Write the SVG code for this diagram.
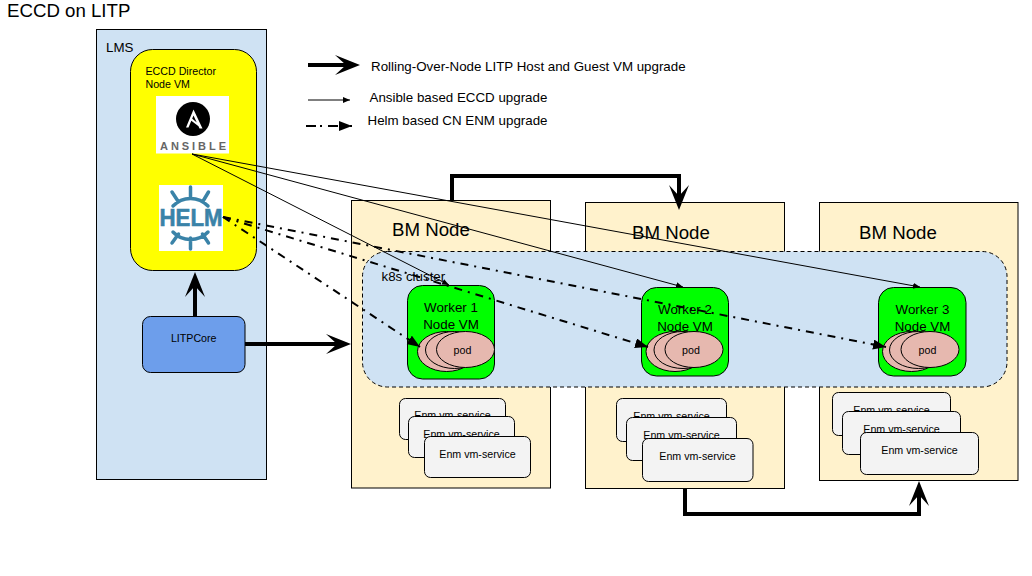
<svg xmlns="http://www.w3.org/2000/svg" width="1032" height="576" viewBox="0 0 1032 576">
<style>
text{font-family:"Liberation Sans",Arial,sans-serif;fill:#000}
.s{font-size:10.67px}.m{font-size:13.33px}.l{font-size:18.67px}
.c{text-anchor:middle}
.box{stroke:#000;stroke-width:1}
.bm{fill:#fff2cc;stroke:#000;stroke-width:1}
.wk{fill:#00ff00;stroke:#000;stroke-width:1}
.pod{fill:#e6b8af;stroke:#000;stroke-width:1}
.enm{fill:#f3f3f3;stroke:#000;stroke-width:1}
.thick{fill:none;stroke:#000;stroke-width:4}
.thin{fill:none;stroke:#000;stroke-width:1}
.dash{fill:none;stroke:#000;stroke-width:2;stroke-dasharray:8 6 2 6}
.hb{fill:none;stroke:#3a83a8;stroke-width:3.500;stroke-linecap:round}
</style>
<defs>
<marker id="big" markerUnits="userSpaceOnUse" markerWidth="27" markerHeight="22" refX="15" refY="10" orient="auto"><path d="M0 0L25 10L0 20L11 10Z" fill="#000"/></marker>
<marker id="small" markerUnits="userSpaceOnUse" markerWidth="8" markerHeight="8" refX="7" refY="3" orient="auto"><path d="M0 0L7 3L0 6Z" fill="#000"/></marker>
<marker id="mid" markerUnits="userSpaceOnUse" markerWidth="14" markerHeight="12" refX="13" refY="5" orient="auto"><path d="M0 0L13 5L0 10Z" fill="#000"/></marker>
</defs>
<rect width="1032" height="576" fill="#fff"/>
<text id="title" class="l" x="7" y="17">ECCD on LITP</text>
<g id="lms">
<rect class="box" x="96.500" y="29.500" width="170" height="450" fill="#cfe2f3"/>
<text class="m" x="106" y="52">LMS</text>
</g>
<g id="director">
<rect class="box" x="130.500" y="49.500" width="126" height="221" rx="22" fill="#ffff00"/>
<text class="s" x="145.500" y="75">ECCD Director</text>
<text class="s" x="145.500" y="88">Node VM</text>
</g>
<g id="ansible">
<rect x="156" y="96" width="73" height="57.500" fill="#fff"/>
<circle cx="193" cy="119" r="17" fill="#000"/>
<path d="M193.500 109.500L186 127.500H188.500L193.500 115.500L199.500 128.500H202.500Z M191 120.500L199.500 127L198 123.500L192 118.500Z" fill="#fff"/>
<text x="193" y="149.500" class="c" textLength="66" style="fill:#666;font-size:11px;font-weight:bold">ANSIBLE</text>
</g>
<g id="helm">
<rect x="159" y="185" width="64" height="66" fill="#fff"/>
<path class="hb" d="M173 206A24 24 0 0 1 208 206M190.500 187V198M172 192L178.500 202M208.500 192L202.500 202"/>
<path class="hb" d="M173 232A24 24 0 0 0 208 232M190.500 249V238M172 243L178.500 234M208.500 243L202.500 234"/>
<text x="191" y="226" class="c" textLength="63" lengthAdjust="spacingAndGlyphs" style="fill:#3a83a8;stroke:#3a83a8;stroke-width:.6;font-size:24px;font-weight:bold">HELM</text>
</g>
<g id="litpcore">
<rect class="box" x="142.500" y="316.500" width="102.500" height="56" rx="8" fill="#6d9eeb"/>
<text class="s c" x="193.700" y="342">LITPCore</text>
</g>
<g id="bm1">
<rect class="bm" x="351.500" y="200.500" width="199" height="287.500"/>
<text class="l" x="392" y="236">BM Node</text>
</g>
<g id="bm2">
<rect class="bm" x="585.500" y="202.500" width="199" height="286"/>
<text class="l" x="632" y="239">BM Node</text>
</g>
<g id="bm3">
<rect class="bm" x="819.500" y="202.500" width="198.500" height="278"/>
<text class="l" x="859" y="239">BM Node</text>
</g>
<g id="k8s">
<rect x="362.500" y="251.500" width="644.500" height="135.500" rx="25" fill="#cfe2f3" stroke="#000" stroke-width="1" stroke-dasharray="4 3"/>
<text class="m" x="381.500" y="281">k8s cluster</text>
</g>
<g id="worker1">
<rect class="wk" x="407.500" y="285.500" width="87" height="93.500" rx="15"/>
<text class="m c" x="451" y="312">Worker 1</text>
<text class="m c" x="451" y="328.500">Node VM</text>
<ellipse class="pod" cx="446.500" cy="351.500" rx="29" ry="20"/>
<ellipse class="pod" cx="454.500" cy="350" rx="29" ry="18.500"/>
<ellipse class="pod" cx="465.500" cy="349.500" rx="29" ry="18"/>
<text class="s c" x="462.500" y="354">pod</text>
</g>
<g id="worker2">
<rect class="wk" x="641.500" y="287.500" width="87" height="88.500" rx="15"/>
<text class="m c" x="685" y="314">Worker 2</text>
<text class="m c" x="685" y="330.500">Node VM</text>
<ellipse class="pod" cx="675" cy="351.500" rx="29" ry="20"/>
<ellipse class="pod" cx="683" cy="350" rx="29" ry="18.500"/>
<ellipse class="pod" cx="694" cy="349.500" rx="29" ry="18"/>
<text class="s c" x="691" y="354">pod</text>
</g>
<g id="worker3">
<rect class="wk" x="878.500" y="287.500" width="87.500" height="88.500" rx="15"/>
<text class="m c" x="922.500" y="314">Worker 3</text>
<text class="m c" x="922.500" y="330.500">Node VM</text>
<ellipse class="pod" cx="911.500" cy="351.500" rx="29" ry="20"/>
<ellipse class="pod" cx="918.500" cy="350" rx="29" ry="18.500"/>
<ellipse class="pod" cx="930" cy="349.500" rx="29" ry="18"/>
<text class="s c" x="927.500" y="354">pod</text>
</g>
<g id="enm1">
<rect class="enm" x="399.500" y="398.500" width="106" height="41" rx="6"/>
<text class="s c" x="452.500" y="419">Enm vm-service</text>
<rect class="enm" x="408.500" y="416.500" width="106" height="41" rx="6"/>
<text class="s c" x="461.500" y="438">Enm vm-service</text>
<rect class="enm" x="424.500" y="436.500" width="106" height="41" rx="6"/>
<text class="s c" x="477.500" y="458">Enm vm-service</text>
</g>
<g id="enm2">
<rect class="enm" x="616.500" y="398.500" width="110" height="43" rx="6"/>
<text class="s c" x="671.500" y="420">Enm vm-service</text>
<rect class="enm" x="626.500" y="417.500" width="110" height="43" rx="6"/>
<text class="s c" x="681.500" y="439">Enm vm-service</text>
<rect class="enm" x="642.500" y="438.500" width="110.500" height="43" rx="6"/>
<text class="s c" x="697.500" y="460">Enm vm-service</text>
</g>
<g id="enm3">
<rect class="enm" x="832.500" y="392.500" width="118" height="43" rx="6"/>
<text class="s c" x="891.500" y="414">Enm vm-service</text>
<rect class="enm" x="842.500" y="411.500" width="118" height="43" rx="6"/>
<text class="s c" x="901.500" y="433">Enm vm-service</text>
<rect class="enm" x="860.500" y="432.500" width="118" height="42" rx="6"/>
<text class="s c" x="919.500" y="454">Enm vm-service</text>
</g>
<g id="connectors">
<path class="thick" d="M195 316V282" marker-end="url(#big)"/>
<path class="thick" d="M245 344H341" marker-end="url(#big)"/>
<path class="thick" d="M452 200V176H679V200" marker-end="url(#big)"/>
<path class="thick" d="M685 489V514H919V491" marker-end="url(#big)"/>
<path class="thin" d="M192 154L449 285" marker-end="url(#small)"/>
<path class="thin" d="M192 154L683 287" marker-end="url(#small)"/>
<path class="thin" d="M192 154L920 287" marker-end="url(#small)"/>
<path class="dash" d="M223 217L420 347" marker-end="url(#mid)"/>
<path class="dash" d="M223 217L648 347" marker-end="url(#mid)"/>
<path class="dash" d="M223 217L886 347" marker-end="url(#mid)"/>
</g>
<g id="legend">
<path class="thick" d="M308 65H350" marker-end="url(#big)"/>
<text class="m" x="371" y="71">Rolling-Over-Node LITP Host and Guest VM upgrade</text>
<path class="thin" d="M308 100H350" marker-end="url(#small)"/>
<text class="m" x="369.500" y="102">Ansible based ECCD upgrade</text>
<path class="dash" d="M306 126H352" style="stroke-dasharray:10 4 2 6" marker-end="url(#mid)"/>
<text class="m" x="367.500" y="125">Helm based CN ENM upgrade</text>
</g>
</svg>
